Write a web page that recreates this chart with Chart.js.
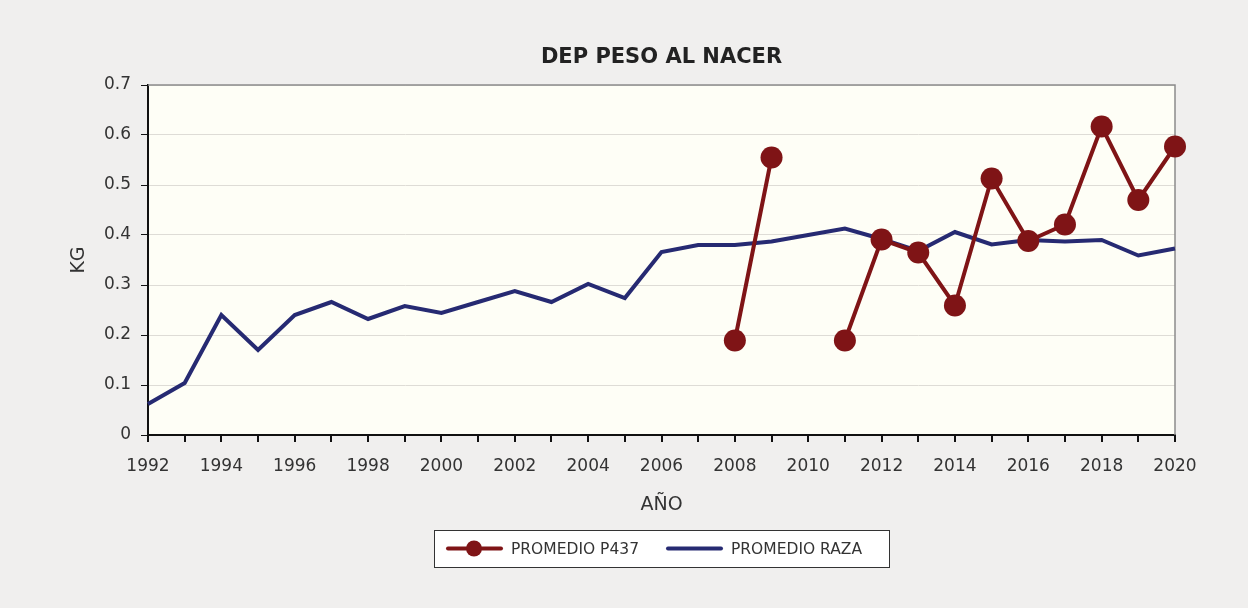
<!DOCTYPE html>
<html>
<head>
<meta charset="utf-8">
<script src="https://cdn.jsdelivr.net/npm/chart.js@4.4.1/dist/chart.umd.min.js"></script>
<style>
  html, body { margin: 0; padding: 0; background: #f0efee; }
  #wrap { width: 1248px; height: 608px; }
</style>
</head>
<body>
<div id="wrap"><canvas id="myChart" width="1248" height="608"></canvas></div>
<script>
// ── Data ──────────────────────────────────────────────────────────────────────
const years = [1992, 1993, 1994, 1995, 1996, 1997, 1998, 1999, 2000, 2001,
               2002, 2003, 2004, 2005, 2006, 2007, 2008, 2009, 2010, 2011,
               2012, 2013, 2014, 2015, 2016, 2017, 2018, 2019, 2020];
const promedioRaza = [0.062, 0.104, 0.240, 0.170, 0.240, 0.266, 0.232, 0.258, 0.244, 0.266,
                      0.288, 0.266, 0.302, 0.274, 0.366, 0.380, 0.380, 0.387, 0.400, 0.413,
                      0.392, 0.368, 0.406, 0.381, 0.390, 0.387, 0.390, 0.359, 0.373];
const promedioP437 = [null, null, null, null, null, null, null, null, null, null,
                      null, null, null, null, null, null, 0.189, 0.555, null, 0.189,
                      0.391, 0.365, 0.259, 0.513, 0.388, 0.421, 0.617, 0.470, 0.577];
const yTicks = [0, 0.1, 0.2, 0.3, 0.4, 0.5, 0.6, 0.7];
const chartTitle = "DEP PESO AL NACER";

const RED  = "#7f1416";
const BLUE = "#262a72";
const FONT = "'DejaVu Sans', 'Noto Sans', sans-serif";

// ── Plot background, frame, title and boxed legend ────────────────────────────
const framePlugin = {
  id: "frame",
  beforeDraw(chart) {
    const { ctx, chartArea: a } = chart;
    ctx.save();
    ctx.fillStyle = "#fefef6";
    ctx.fillRect(a.left, a.top, a.right - a.left, a.bottom - a.top);
    ctx.restore();
  },
  beforeDatasetsDraw(chart) {
    const { ctx, chartArea: a } = chart;
    ctx.save();
    ctx.strokeStyle = "#8c8c8c";
    ctx.lineWidth = 1.5;
    ctx.beginPath();
    ctx.moveTo(a.left, a.top);
    ctx.lineTo(a.right, a.top);
    ctx.lineTo(a.right, a.bottom);
    ctx.stroke();
    ctx.restore();
  },
  afterDraw(chart) {
    const { ctx, chartArea: a } = chart;
    ctx.save();
    // title, centred over the plot area
    ctx.fillStyle = "#222222";
    ctx.font = "bold 21px " + FONT;
    ctx.textAlign = "center";
    ctx.textBaseline = "middle";
    ctx.fillText(chartTitle, (a.left + a.right) / 2, 58);

    // legend box
    const bx = 434, by = 530, bw = 455, bh = 37, cy = by + bh / 2;
    ctx.fillStyle = "#ffffff";
    ctx.fillRect(bx, by, bw, bh);
    ctx.strokeStyle = "#333333";
    ctx.lineWidth = 1;
    ctx.strokeRect(bx + 0.5, by + 0.5, bw, bh);

    ctx.lineCap = "round";
    ctx.lineWidth = 4;
    ctx.strokeStyle = RED;
    ctx.beginPath(); ctx.moveTo(448, cy); ctx.lineTo(501, cy); ctx.stroke();
    ctx.fillStyle = RED;
    ctx.beginPath(); ctx.arc(474, cy, 8, 0, Math.PI * 2); ctx.fill();

    ctx.strokeStyle = BLUE;
    ctx.beginPath(); ctx.moveTo(668, cy); ctx.lineTo(721, cy); ctx.stroke();

    ctx.fillStyle = "#333333";
    ctx.font = "15.5px " + FONT;
    ctx.textAlign = "left";
    ctx.fillText(chart.data.datasets[0].label, 511, cy + 1);
    ctx.fillText(chart.data.datasets[1].label, 731, cy + 1);
    ctx.restore();
  },
};

// ── Chart ─────────────────────────────────────────────────────────────────────
new Chart(document.getElementById("myChart").getContext("2d"), {
  type: "line",
  data: {
    labels: years,
    datasets: [
      {
        label: "PROMEDIO P437",
        data: promedioP437,
        borderColor: RED,
        backgroundColor: RED,
        borderWidth: 4,
        pointRadius: 11,
        pointHoverRadius: 11,
        pointBorderWidth: 0,
        spanGaps: false,
        order: 1,
      },
      {
        label: "PROMEDIO RAZA",
        data: promedioRaza,
        borderColor: BLUE,
        backgroundColor: BLUE,
        borderWidth: 4,
        pointRadius: 0,
        order: 2,
      },
    ],
  },
  plugins: [framePlugin],
  options: {
    responsive: false,
    animation: false,
    layout: { padding: { left: 64, right: 73, top: 85, bottom: 88 } },
    plugins: {
      legend: { display: false },
      tooltip: { enabled: false },
      title: { display: false },
    },
    scales: {
      x: {
        offset: false,
        grid: { drawOnChartArea: false, drawTicks: true, tickLength: 7, tickColor: "#111111", lineWidth: 2 },
        border: { display: true, color: "#111111", width: 2 },
        ticks: {
          autoSkip: false,
          maxRotation: 0,
          color: "#333333",
          font: { family: FONT, size: 17 },
          padding: 14,
          callback: (v, i) => years[i] % 2 === 0 ? String(years[i]) : "",
        },
        title: { display: true, text: "AÑO", color: "#333333", font: { family: FONT, size: 19 }, padding: { top: 3 } },
        afterFit(scale) { scale.height = 85; },
      },
      y: {
        min: 0,
        max: 0.7,
        afterBuildTicks(scale) { scale.ticks = yTicks.map(v => ({ value: v })); },
        grid: { color: "#dedcd6", lineWidth: 1, tickLength: 7, tickColor: "#111111" },
        border: { display: true, color: "#111111", width: 2 },
        ticks: {
          color: "#333333",
          font: { family: FONT, size: 17 },
          padding: 10,
          callback: v => String(v),
        },
        title: { display: true, text: "KG", color: "#333333", font: { family: FONT, size: 19 }, padding: { bottom: 0 } },
        afterFit(scale) { scale.width = 84; },
      },
    },
  },
});
</script>
</body>
</html>
